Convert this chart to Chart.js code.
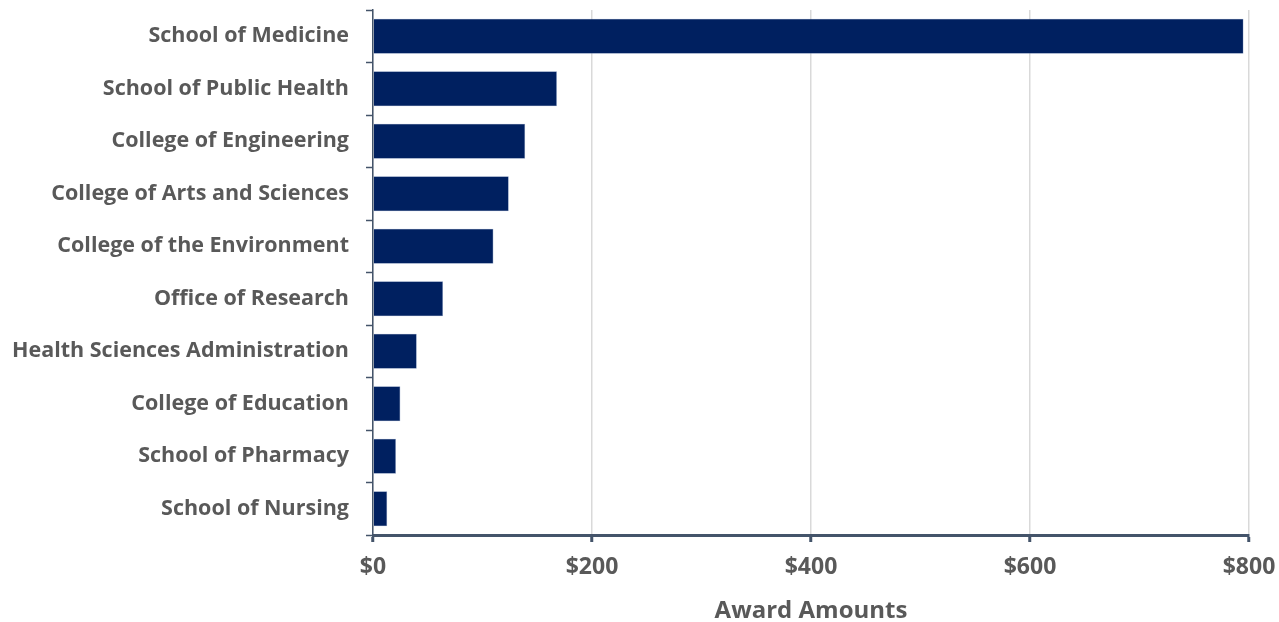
<!DOCTYPE html>
<html>
<head>
<meta charset="utf-8">
<script src="https://cdn.jsdelivr.net/npm/chart.js@4.4.0/dist/chart.umd.min.js"></script>
<style>
  html, body { margin: 0; padding: 0; background: #fff; }
  #wrap { width: 1279px; height: 622px; }
</style>
</head>
<body>
<div id="wrap"><canvas id="awards"></canvas></div>
<script>
const schools = [
  'School of Medicine',
  'School of Public Health',
  'College of Engineering',
  'College of Arts and Sciences',
  'College of the Environment',
  'Office of Research',
  'Health Sciences Administration',
  'College of Education',
  'School of Pharmacy',
  'School of Nursing'
];
const awardAmounts = [795, 168, 139, 124, 110, 64, 40, 25, 21, 13];
const xTicks = [0, 200, 400, 600, 800];

const axisColor = '#44546A';
const textColor = '#595959';
const fontFamily = '"Open Sans", Lato, sans-serif';

let ctx = document.getElementById('awards').getContext('2d');
new Chart(ctx, {
  type: 'bar',
  data: {
    labels: schools,
    datasets: [{
      label: 'Award Amounts',
      data: awardAmounts,
      backgroundColor: '#002060',
      borderColor: '#8ea3c8',
      borderWidth: 0.6,
      barPercentage: 0.67,
      categoryPercentage: 1.0
    }]
  },
  options: {
    indexAxis: 'y',
    responsive: true,
    maintainAspectRatio: false,
    animation: false,
    layout: { padding: { top: 10, right: 30, left: 0, bottom: 0 } },
    plugins: {
      legend: { display: false },
      tooltip: { enabled: false }
    },
    scales: {
      x: {
        min: 0,
        max: 800,
        afterBuildTicks: function(axis){
          axis.ticks = xTicks.map(v => ({ value: v }));
        },
        afterFit: function(axis){
          axis.height = 87;
          axis.paddingLeft = 0;
          axis.paddingRight = 0;
        },
        border: { color: axisColor, width: 3 },
        grid: {
          color: '#d9d9d9',
          lineWidth: 1.5,
          tickColor: axisColor,
          tickLength: 7,
          tickWidth: 3
        },
        ticks: {
          color: textColor,
          padding: 12,
          font: { family: fontFamily, size: 23, weight: 'bold' },
          callback: v => '$' + v
        },
        title: {
          display: true,
          text: 'Award Amounts',
          color: textColor,
          font: { family: fontFamily, size: 24, weight: 'bold' },
          padding: { top: 0, bottom: -4 }
        }
      },
      y: {
        afterFit: function(axis){
          axis.width = 373;
          axis.paddingTop = 0;
          axis.paddingBottom = 0;
        },
        border: { color: axisColor, width: 1.5 },
        grid: {
          drawOnChartArea: false,
          offset: true,
          tickColor: axisColor,
          tickLength: 7,
          tickWidth: 1.5
        },
        ticks: {
          color: textColor,
          padding: 17,
          font: { family: fontFamily, size: 21.5, weight: 'bold' }
        }
      }
    }
  }
});
</script>
</body>
</html>
